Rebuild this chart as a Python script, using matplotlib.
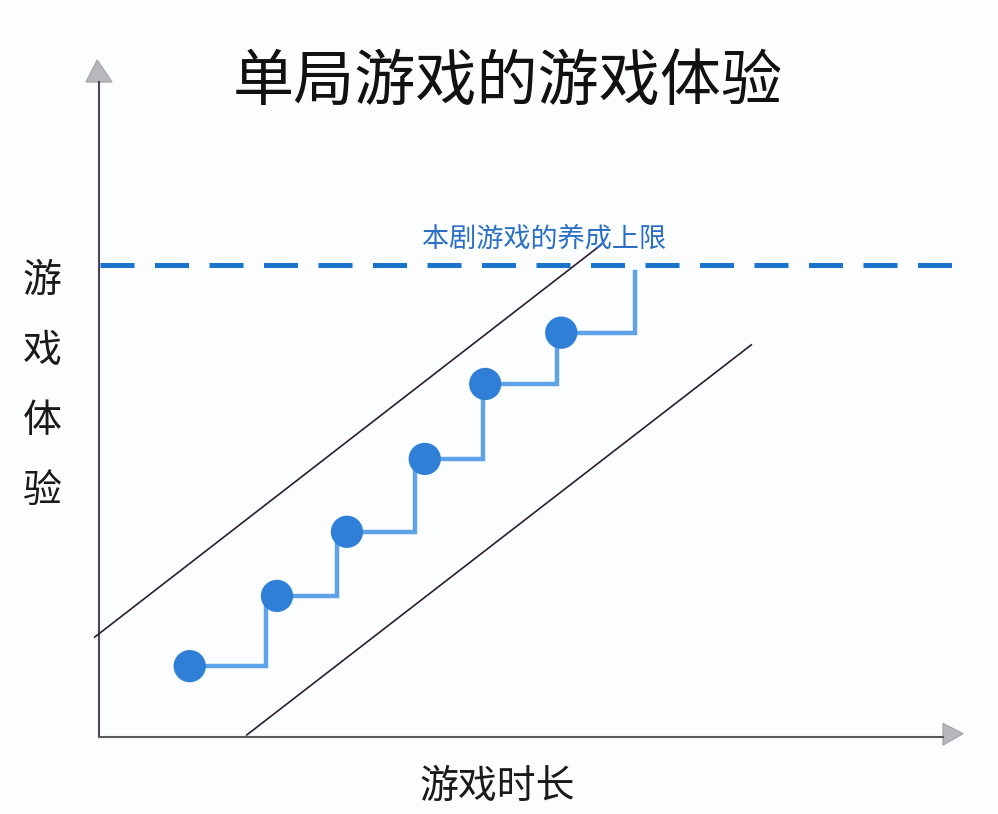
import numpy as np
import matplotlib
matplotlib.use("Agg")
import matplotlib.pyplot as plt
from matplotlib.patches import Polygon

plt.rcParams['font.family'] = ['Noto Sans CJK SC', 'DejaVu Sans']

title = "单局游戏的游戏体验"
x_label = "游戏时长"
y_label = "游戏体验"
cap_label = "本剧游戏的养成上限"

# stage points (time, experience) in axis units 0..10
stage_x = [1.05, 2.06, 2.87, 3.77, 4.47, 5.35]
stage_y = [1.05, 2.09, 3.04, 4.12, 5.23, 5.99]
# x where each stage's plateau ends and it climbs to the next
step_x = [1.93, 2.75, 3.66, 4.44, 5.30, 6.20]
final_top = 6.89

cap_y = 6.99

# the two parallel band lines
band_upper_x = [-0.05, 5.81]
band_upper_y = [1.48, 7.29]
band_lower_x = [1.71, 7.55]
band_lower_y = [0.03, 5.81]

bg = "#fcfdff"
fig = plt.figure(figsize=(9.98, 8.14), dpi=100, facecolor=bg)
W, H = 998, 814
ax = fig.add_axes([99 / W, (H - 737) / H, 864 / W, 675 / H])
ax.set_xlim(0, 10)
ax.set_ylim(0, 10)
ax.set_facecolor(bg)
ax.axis("off")

# axes lines with grey arrow heads
ax.plot([0, 0], [0, (737 - 82) / 67.5], color="#4d4555", lw=1.5, clip_on=False)
ax.plot([0, (943 - 99) / 86.4], [0, 0], color="#5a5a5a", lw=1.5, clip_on=False)
up_tri = Polygon([[-0.15, (737 - 82) / 67.5], [0.15, (737 - 82) / 67.5], [-0.02, (737 - 60) / 67.5]],
                 closed=True, facecolor="#b8b8bc", edgecolor="#a8a8ac", clip_on=False)
right_tri = Polygon([[(943 - 99) / 86.4, 0.2], [(943 - 99) / 86.4, -0.12], [(963 - 99) / 86.4, 0.05]],
                    closed=True, facecolor="#b8b8bc", edgecolor="#a8a8ac", clip_on=False)
ax.add_patch(up_tri)
ax.add_patch(right_tri)

# cap line
ax.plot([0.01, 9.87], [cap_y, cap_y], color="#1a73cc", lw=3.6,
        dashes=(6.8, 4.1), dash_capstyle="butt", clip_on=False)
ax.text(5.15, cap_y + 0.39, cap_label, color="#2a6fc4", fontsize=19.5,
        ha="center", va="center")

# band lines
ax.plot(band_upper_x, band_upper_y, color="#2b1e2e", lw=1.2, clip_on=False)
ax.plot(band_lower_x, band_lower_y, color="#2b1e2e", lw=1.2, clip_on=False)

# step path
px, py = [], []
for i in range(len(stage_x)):
    nxt = stage_y[i + 1] if i + 1 < len(stage_y) else final_top
    px += [stage_x[i], step_x[i], step_x[i]]
    py += [stage_y[i], stage_y[i], nxt]
ax.plot(px, py, color="#5ea3e8", lw=3.2, solid_joinstyle="miter", zorder=3)
ax.scatter(stage_x, stage_y, s=540, color="#2f7fd6", zorder=4, edgecolors="none")

# labels
fig.text(508 / W, 1 - 83 / H, title, fontsize=44, ha="center", va="center", color="#111111")
fig.text(497 / W, 1 - 787 / H, x_label, fontsize=28, ha="center", va="center", color="#1a1a1a")
for k, ch in enumerate(y_label):
    fig.text(42 / W, 1 - (281 + 70 * k) / H, ch, fontsize=28, ha="center", va="center", color="#1a1a1a")

fig.savefig("out.png", dpi=100, facecolor=bg)
